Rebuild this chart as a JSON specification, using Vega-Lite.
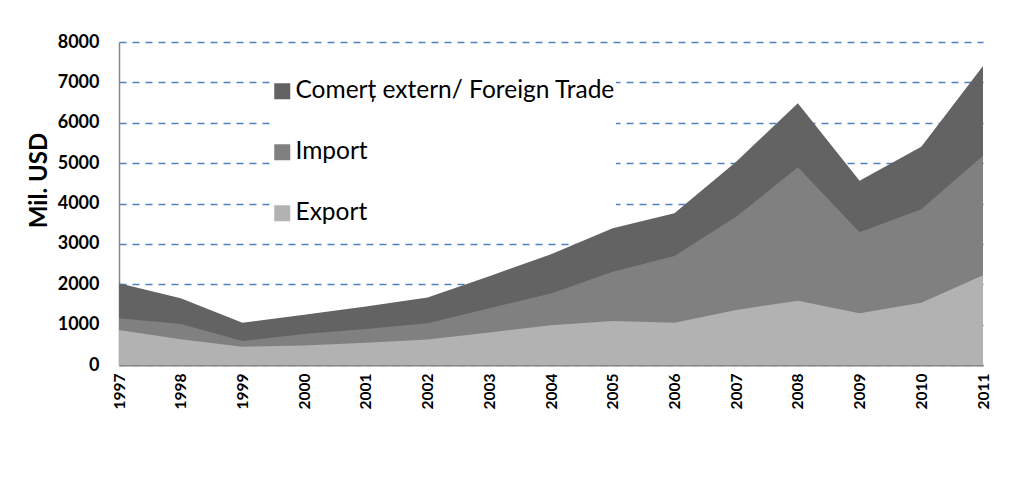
{
  "$schema": "https://vega.github.io/schema/vega-lite/v6.json",
  "width": 864,
  "height": 323,
  "autosize": {"type": "none"},
  "padding": {"left": 119, "top": 42, "right": 29, "bottom": 116},
  "background": "white",
  "config": {"view": {"stroke": null}, "font": "Lato"},
  "data": {"values": [
    {"year": 1997, "series": "Comerț extern/ Foreign Trade", "value": 2023},
    {"year": 1998, "series": "Comerț extern/ Foreign Trade", "value": 1651},
    {"year": 1999, "series": "Comerț extern/ Foreign Trade", "value": 1048},
    {"year": 2000, "series": "Comerț extern/ Foreign Trade", "value": 1245},
    {"year": 2001, "series": "Comerț extern/ Foreign Trade", "value": 1446},
    {"year": 2002, "series": "Comerț extern/ Foreign Trade", "value": 1669},
    {"year": 2003, "series": "Comerț extern/ Foreign Trade", "value": 2200},
    {"year": 2004, "series": "Comerț extern/ Foreign Trade", "value": 2745},
    {"year": 2005, "series": "Comerț extern/ Foreign Trade", "value": 3390},
    {"year": 2006, "series": "Comerț extern/ Foreign Trade", "value": 3757},
    {"year": 2007, "series": "Comerț extern/ Foreign Trade", "value": 5036},
    {"year": 2008, "series": "Comerț extern/ Foreign Trade", "value": 6482},
    {"year": 2009, "series": "Comerț extern/ Foreign Trade", "value": 4566},
    {"year": 2010, "series": "Comerț extern/ Foreign Trade", "value": 5408},
    {"year": 2011, "series": "Comerț extern/ Foreign Trade", "value": 7406},
    {"year": 1997, "series": "Import", "value": 1156},
    {"year": 1998, "series": "Import", "value": 1015},
    {"year": 1999, "series": "Import", "value": 594},
    {"year": 2000, "series": "Import", "value": 765},
    {"year": 2001, "series": "Import", "value": 893},
    {"year": 2002, "series": "Import", "value": 1037},
    {"year": 2003, "series": "Import", "value": 1404},
    {"year": 2004, "series": "Import", "value": 1773},
    {"year": 2005, "series": "Import", "value": 2312},
    {"year": 2006, "series": "Import", "value": 2700},
    {"year": 2007, "series": "Import", "value": 3674},
    {"year": 2008, "series": "Import", "value": 4896},
    {"year": 2009, "series": "Import", "value": 3286},
    {"year": 2010, "series": "Import", "value": 3856},
    {"year": 2011, "series": "Import", "value": 5185},
    {"year": 1997, "series": "Export", "value": 867},
    {"year": 1998, "series": "Export", "value": 636},
    {"year": 1999, "series": "Export", "value": 454},
    {"year": 2000, "series": "Export", "value": 482},
    {"year": 2001, "series": "Export", "value": 553},
    {"year": 2002, "series": "Export", "value": 632},
    {"year": 2003, "series": "Export", "value": 806},
    {"year": 2004, "series": "Export", "value": 985},
    {"year": 2005, "series": "Export", "value": 1090},
    {"year": 2006, "series": "Export", "value": 1048},
    {"year": 2007, "series": "Export", "value": 1362},
    {"year": 2008, "series": "Export", "value": 1593},
    {"year": 2009, "series": "Export", "value": 1280},
    {"year": 2010, "series": "Export", "value": 1544},
    {"year": 2011, "series": "Export", "value": 2221}
  ]},
  "encoding": {
    "x": {
      "field": "year", "type": "ordinal",
      "scale": {"type": "point", "padding": 0},
      "axis": {
        "title": null, "labelAngle": 270, "labelAlign": "right", "labelBaseline": "middle",
        "labelFont": "Lato", "labelFontWeight": "bold", "labelFontSize": 15.5, "labelColor": "black",
        "labelPadding": 8, "ticks": false, "domainColor": "#868686", "domainWidth": 2, "grid": false
      }
    },
    "y": {
      "field": "value", "type": "quantitative",
      "scale": {"domain": [0, 8000], "nice": false},
      "axis": {
        "title": "Mil. USD", "titleFont": "Lato", "titleFontSize": 24, "titleFontWeight": "bold", "titleColor": "black",
        "titlePadding": 6, "titleY": 138, "format": "d",
        "values": [0, 1000, 2000, 3000, 4000, 5000, 6000, 7000, 8000],
        "labelFont": "Lato", "labelFontWeight": "bold", "labelFontSize": 18, "labelColor": "black",
        "labelPadding": 20, "ticks": false, "domainColor": "#868686", "domainWidth": 1.5,
        "grid": true, "gridColor": "#4f81bd", "gridDash": [7, 6], "gridWidth": 1.4
      }
    },
    "color": {
      "field": "series", "type": "nominal",
      "scale": {"domain": ["Comerț extern/ Foreign Trade", "Import", "Export"], "range": ["#636363", "#808080", "#b2b2b2"]},
      "legend": {
        "title": null, "orient": "none", "legendX": 151, "legendY": 37,
        "direction": "vertical", "symbolType": "square", "symbolSize": 256, "symbolStrokeWidth": 0,
        "labelFont": "Lato", "labelFontSize": 24.5, "labelColor": "black", "labelOffset": 1,
        "rowPadding": 36, "fillColor": "white", "padding": 0, "labelLimit": 500
      }
    }
  },
  "layer": [
    {"transform": [{"filter": "datum.series === 'Comerț extern/ Foreign Trade'"}], "mark": {"type": "area", "opacity": 1}},
    {"transform": [{"filter": "datum.series === 'Import'"}], "mark": {"type": "area", "opacity": 1}},
    {"transform": [{"filter": "datum.series === 'Export'"}], "mark": {"type": "area", "opacity": 1}}
  ]
}
